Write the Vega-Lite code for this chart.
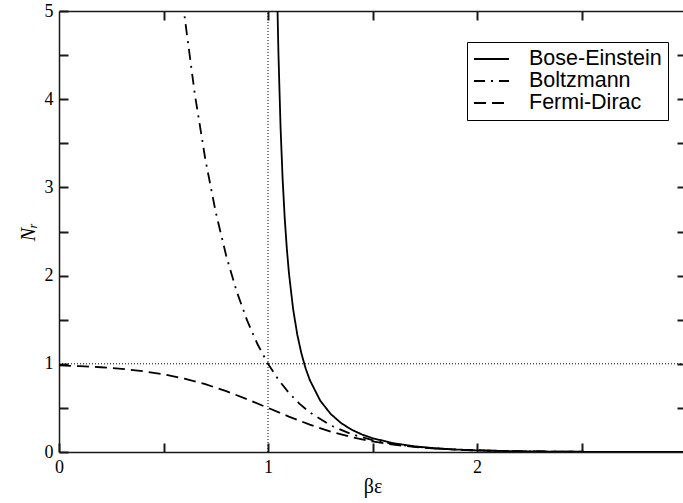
{
  "$schema": "https://vega.github.io/schema/vega-lite/v6.json",
  "width": 627,
  "height": 441,
  "autosize": "none",
  "padding": {"left": 59, "top": 11, "right": 0, "bottom": 51},
  "background": "white",
  "datasets": {
    "curves": [
      {"x": 1.03, "y": 7.843, "s": "Bose-Einstein"},
      {"x": 1.04, "y": 5.7633, "s": "Bose-Einstein"},
      {"x": 1.045, "y": 5.0706, "s": "Bose-Einstein"},
      {"x": 1.05, "y": 4.5166, "s": "Bose-Einstein"},
      {"x": 1.06, "y": 3.6867, "s": "Bose-Einstein"},
      {"x": 1.07, "y": 3.0947, "s": "Bose-Einstein"},
      {"x": 1.08, "y": 2.6515, "s": "Bose-Einstein"},
      {"x": 1.09, "y": 2.3077, "s": "Bose-Einstein"},
      {"x": 1.1, "y": 2.0332, "s": "Bose-Einstein"},
      {"x": 1.12, "y": 1.6232, "s": "Bose-Einstein"},
      {"x": 1.14, "y": 1.3322, "s": "Bose-Einstein"},
      {"x": 1.16, "y": 1.1155, "s": "Bose-Einstein"},
      {"x": 1.18, "y": 0.94836, "s": "Bose-Einstein"},
      {"x": 1.2, "y": 0.81597, "s": "Bose-Einstein"},
      {"x": 1.25, "y": 0.58198, "s": "Bose-Einstein"},
      {"x": 1.3, "y": 0.43101, "s": "Bose-Einstein"},
      {"x": 1.35, "y": 0.32731, "s": "Bose-Einstein"},
      {"x": 1.4, "y": 0.25297, "s": "Bose-Einstein"},
      {"x": 1.45, "y": 0.19803, "s": "Bose-Einstein"},
      {"x": 1.5, "y": 0.15652, "s": "Bose-Einstein"},
      {"x": 1.6, "y": 0.09977, "s": "Bose-Einstein"},
      {"x": 1.7, "y": 0.06475, "s": "Bose-Einstein"},
      {"x": 1.8, "y": 0.04249, "s": "Bose-Einstein"},
      {"x": 1.9, "y": 0.02809, "s": "Bose-Einstein"},
      {"x": 2.0, "y": 0.01866, "s": "Bose-Einstein"},
      {"x": 2.2, "y": 0.0083, "s": "Bose-Einstein"},
      {"x": 2.4, "y": 0.00371, "s": "Bose-Einstein"},
      {"x": 2.6, "y": 0.00166, "s": "Bose-Einstein"},
      {"x": 2.8, "y": 0.00075, "s": "Bose-Einstein"},
      {"x": 3.0, "y": 0.00034, "s": "Bose-Einstein"},
      {"x": 0.5, "y": 7.389, "s": "Boltzmann"},
      {"x": 0.6, "y": 4.953, "s": "Boltzmann"},
      {"x": 0.65, "y": 4.0552, "s": "Boltzmann"},
      {"x": 0.7, "y": 3.3201, "s": "Boltzmann"},
      {"x": 0.75, "y": 2.71828, "s": "Boltzmann"},
      {"x": 0.8, "y": 2.22554, "s": "Boltzmann"},
      {"x": 0.85, "y": 1.82212, "s": "Boltzmann"},
      {"x": 0.9, "y": 1.49182, "s": "Boltzmann"},
      {"x": 0.95, "y": 1.2214, "s": "Boltzmann"},
      {"x": 1.0, "y": 1.0, "s": "Boltzmann"},
      {"x": 1.05, "y": 0.81873, "s": "Boltzmann"},
      {"x": 1.1, "y": 0.67032, "s": "Boltzmann"},
      {"x": 1.15, "y": 0.54881, "s": "Boltzmann"},
      {"x": 1.2, "y": 0.44933, "s": "Boltzmann"},
      {"x": 1.3, "y": 0.30119, "s": "Boltzmann"},
      {"x": 1.4, "y": 0.2019, "s": "Boltzmann"},
      {"x": 1.5, "y": 0.13534, "s": "Boltzmann"},
      {"x": 1.6, "y": 0.09072, "s": "Boltzmann"},
      {"x": 1.7, "y": 0.06081, "s": "Boltzmann"},
      {"x": 1.8, "y": 0.04076, "s": "Boltzmann"},
      {"x": 1.9, "y": 0.02732, "s": "Boltzmann"},
      {"x": 2.0, "y": 0.01832, "s": "Boltzmann"},
      {"x": 2.2, "y": 0.00823, "s": "Boltzmann"},
      {"x": 2.4, "y": 0.0037, "s": "Boltzmann"},
      {"x": 2.6, "y": 0.00166, "s": "Boltzmann"},
      {"x": 2.8, "y": 0.00075, "s": "Boltzmann"},
      {"x": 3.0, "y": 0.00034, "s": "Boltzmann"},
      {"x": 0.0, "y": 0.98201, "s": "Fermi-Dirac"},
      {"x": 0.1, "y": 0.9734, "s": "Fermi-Dirac"},
      {"x": 0.2, "y": 0.96083, "s": "Fermi-Dirac"},
      {"x": 0.3, "y": 0.94268, "s": "Fermi-Dirac"},
      {"x": 0.4, "y": 0.91683, "s": "Fermi-Dirac"},
      {"x": 0.5, "y": 0.8808, "s": "Fermi-Dirac"},
      {"x": 0.6, "y": 0.83202, "s": "Fermi-Dirac"},
      {"x": 0.7, "y": 0.76852, "s": "Fermi-Dirac"},
      {"x": 0.8, "y": 0.68997, "s": "Fermi-Dirac"},
      {"x": 0.9, "y": 0.59869, "s": "Fermi-Dirac"},
      {"x": 1.0, "y": 0.5, "s": "Fermi-Dirac"},
      {"x": 1.1, "y": 0.40131, "s": "Fermi-Dirac"},
      {"x": 1.2, "y": 0.31003, "s": "Fermi-Dirac"},
      {"x": 1.3, "y": 0.23148, "s": "Fermi-Dirac"},
      {"x": 1.4, "y": 0.16798, "s": "Fermi-Dirac"},
      {"x": 1.5, "y": 0.1192, "s": "Fermi-Dirac"},
      {"x": 1.6, "y": 0.08317, "s": "Fermi-Dirac"},
      {"x": 1.7, "y": 0.05732, "s": "Fermi-Dirac"},
      {"x": 1.8, "y": 0.03917, "s": "Fermi-Dirac"},
      {"x": 1.9, "y": 0.0266, "s": "Fermi-Dirac"},
      {"x": 2.0, "y": 0.01799, "s": "Fermi-Dirac"},
      {"x": 2.1, "y": 0.01213, "s": "Fermi-Dirac"},
      {"x": 2.2, "y": 0.00816, "s": "Fermi-Dirac"},
      {"x": 2.3, "y": 0.00549, "s": "Fermi-Dirac"},
      {"x": 2.4, "y": 0.00368, "s": "Fermi-Dirac"},
      {"x": 2.5, "y": 0.00247, "s": "Fermi-Dirac"},
      {"x": 2.6, "y": 0.00166, "s": "Fermi-Dirac"},
      {"x": 2.8, "y": 0.00075, "s": "Fermi-Dirac"},
      {"x": 3.0, "y": 0.00034, "s": "Fermi-Dirac"}
    ],
    "refs": [
      {"x": 1, "x2": 1, "y": 0, "y2": 5},
      {"x": 0, "x2": 3, "y": 1, "y2": 1}
    ]
  },
  "config": {
    "view": {"stroke": null},
    "axis": {
      "grid": false,
      "domainColor": "#1a1a1a",
      "tickColor": "#1a1a1a",
      "labelColor": "#000000",
      "titleColor": "#000000",
      "domainWidth": 1.5,
      "tickWidth": 2,
      "labelFont": "Liberation Serif",
      "labelFontSize": 18,
      "titleFont": "Liberation Serif",
      "titleFontSize": 20,
      "titleFontWeight": "normal",
      "labelFlush": false,
      "labelOverlap": false
    }
  },
  "layer": [
    {
      "data": {"name": "refs"},
      "mark": {"type": "rule", "color": "black", "strokeWidth": 1, "strokeDash": [1, 2]},
      "encoding": {
        "x": {
          "field": "x", "type": "quantitative",
          "scale": {"domain": [0, 3], "nice": false, "zero": false},
          "axis": {"orient": "top", "values": [0.5, 1, 1.5, 2, 2.5], "labels": false, "title": null, "tickSize": -9}
        },
        "x2": {"field": "x2"},
        "y": {
          "field": "y", "type": "quantitative",
          "scale": {"domain": [0, 5], "nice": false},
          "axis": {"orient": "right", "values": [0.5, 1, 1.5, 2, 2.5, 3, 3.5, 4, 4.5], "labels": false, "title": null, "tickSize": -9}
        },
        "y2": {"field": "y2"}
      }
    },
    {
      "data": {"name": "curves"},
      "mark": {"type": "line", "clip": true, "strokeWidth": 1.8, "color": "black"},
      "encoding": {
        "x": {
          "field": "x", "type": "quantitative",
          "scale": {"domain": [0, 3], "nice": false, "zero": false},
          "axis": {
            "orient": "bottom", "values": [0, 0.5, 1, 1.5, 2, 2.5],
            "labelExpr": "datum.value % 1 === 0 ? datum.value + '' : ''",
            "tickSize": -9,
            "labelPadding": 15,
            "title": "βε",
            "titlePadding": 0
          }
        },
        "y": {
          "field": "y", "type": "quantitative",
          "scale": {"domain": [0, 5], "nice": false},
          "axis": {
            "orient": "left", "values": [0, 0.5, 1, 1.5, 2, 2.5, 3, 3.5, 4, 4.5, 5],
            "labelExpr": "datum.value % 1 === 0 ? datum.value + '' : ''",
            "tickSize": -9,
            "labelPadding": 15,
            "title": "Nᵣ",
            "titleFontStyle": "italic",
            "titlePadding": 6
          }
        },
        "strokeDash": {
          "field": "s", "type": "nominal",
          "scale": {
            "domain": ["Bose-Einstein", "Boltzmann", "Fermi-Dirac"],
            "range": [[1, 0], [11, 6, 2, 6], [12, 6]]
          },
          "legend": {
            "title": null,
            "orient": "none",
            "legendX": 408,
            "legendY": 31,
            "direction": "vertical",
            "fillColor": "white",
            "strokeColor": "black",
            "padding": 6,
            "symbolType": "M-1.75,0H1.75",
            "symbolSize": 400,
            "symbolOffset": 7.5,
            "symbolStrokeWidth": 1.8,
            "symbolStrokeColor": "black",
            "symbolFillColor": "transparent",
            "labelFont": "Liberation Sans",
            "labelFontSize": 21.5,
            "labelColor": "black",
            "labelOffset": 26.5,
            "rowPadding": 0
          }
        }
      }
    }
  ],
  "resolve": {"axis": {"x": "independent", "y": "independent"}}
}
